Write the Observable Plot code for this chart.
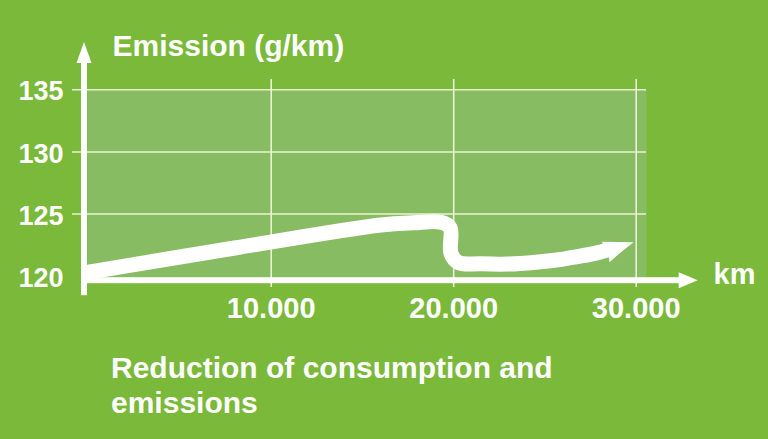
<!DOCTYPE html>
<html>
<head>
<meta charset="utf-8">
<script src="https://cdn.jsdelivr.net/npm/d3@7"></script>
<script src="https://cdn.jsdelivr.net/npm/@observablehq/plot@0.6"></script>
<style>
  html, body { margin: 0; padding: 0; background: #7ab93a; width: 768px; height: 439px; overflow: hidden; }
  #chart svg { display: block; }
  #caption {
    margin: 15px 0 0 111px;
    font-family: "Liberation Sans", Arial, sans-serif;
    font-weight: bold;
    font-size: 30px;
    line-height: 35px;
    color: white;
  }
</style>
</head>
<body>
<div id="chart"></div>
<div id="caption">Reduction of consumption and<br>emissions</div>
<script>
// ---- data ----
const kmValues = [0, 8000, 16000, 17800, 19300, 19800, 19850, 20250, 21500, 23000, 24500, 26000, 27000, 27900, 28400, 29860];
const emissionValues = [120.33, 122.27, 124.12, 124.3, 124.34, 123.9, 121.83, 121.1, 121.0, 120.98, 121.13, 121.38, 121.63, 121.9, 122.1, 122.74];
const yTicks = [120, 125, 130, 135];
const yGrid = [125, 130, 135];
const xTicks = [10000, 20000, 30000];
const xTickLabels = ["10.000", "20.000", "30.000"];
const titleText = "Emission (g/km)";
const xUnit = "km";

const series = kmValues.map((km, i) => ({km, v: emissionValues[i]}));
const shaft = series.slice(0, -1);
const tip = series.slice(-1);

const gridColor = "#e8f4d2";
const fontFamily = "'Liberation Sans', Arial, sans-serif";

// swept arrow head (tip at origin)
const arrowHead = {
  draw(ctx) {
    ctx.moveTo(0, 0);
    ctx.lineTo(-32, -0.5);
    ctx.lineTo(-26, 8);
    ctx.lineTo(-24, 20);
    ctx.quadraticCurveTo(-12, 9, 0, 0);
    ctx.closePath();
  }
};

// decorative axis arrows
function axisArrows(index, scales, values, dims) {
  const g = d3.create("svg:g").attr("fill", "white");
  const ax = scales.x(0) - 4.2;        // vertical axis centre
  const ay = scales.y(120) + 4.5;      // horizontal axis centre
  const top = dims.marginTop;
  g.append("rect").attr("x", ax - 3).attr("y", top - 28).attr("width", 6).attr("height", ay + 15 - (top - 28));
  g.append("path").attr("d", `M${ax},${top - 47}L${ax + 7.5},${top - 26}L${ax - 7.5},${top - 26}Z`);
  const xEnd = scales.x(30000) + 44;
  g.append("rect").attr("x", ax - 3).attr("y", ay - 3).attr("width", xEnd - (ax - 3)).attr("height", 6);
  g.append("path").attr("d", `M${xEnd + 18},${ay}L${xEnd - 1},${ay - 8}L${xEnd - 1},${ay + 8}Z`);
  return g.node();
}

const chart = Plot.plot({
  width: 768,
  height: 335,
  marginTop: 89,
  marginRight: 122,
  marginBottom: 58,
  marginLeft: 87,
  style: {background: "transparent", color: "white", fontFamily, fontWeight: "bold", overflow: "visible"},
  x: {domain: [0, 30000], range: [88.2, 635.7]},
  y: {domain: [120, 135], range: [275.7, 89.3]},
  marks: [
    Plot.frame({fill: "#88bc62", stroke: "none"}),
    Plot.ruleY(yGrid, {y: d => d, stroke: gridColor, strokeWidth: 1.6, insetLeft: -15}),
    Plot.ruleX(xTicks, {x: d => d, stroke: gridColor, strokeWidth: 1.6, insetTop: -10, insetBottom: -10}),
    Plot.axisY(yTicks, {tickSize: 0, tickPadding: 24, fontSize: 27, fill: "white", dy: 2, label: null}),
    Plot.axisX(xTicks, {anchor: "bottom", tickSize: 0, tickPadding: 20, fontSize: 29, fill: "white", label: null,
      tickFormat: d => xTickLabels[xTicks.indexOf(d)]}),
    axisArrows,
    Plot.line(shaft, {x: "km", y: "v", stroke: "white", strokeWidth: 15, curve: "catmull-rom",
      strokeLinecap: "round", strokeLinejoin: "round"}),
    Plot.dot(tip, {x: "km", y: "v", symbol: arrowHead, r: 10, fill: "white", stroke: "none"}),
    Plot.text([titleText], {text: d => d, frameAnchor: "top-left", dx: 25, dy: -34, textAnchor: "start",
      lineAnchor: "bottom", fontSize: 30, fill: "white"}),
    Plot.text([xUnit], {text: d => d, frameAnchor: "bottom-right", dx: 67, dy: 6, textAnchor: "start",
      lineAnchor: "bottom", fontSize: 29, fill: "white"})
  ]
});
document.getElementById("chart").appendChild(chart);
</script>
</body>
</html>
